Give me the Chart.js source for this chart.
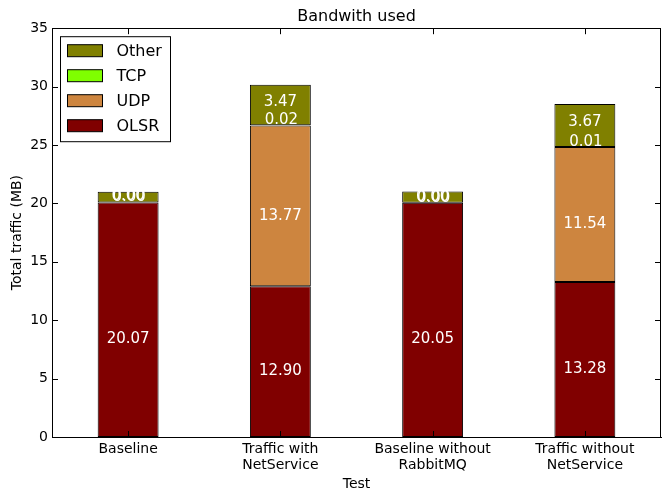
<!DOCTYPE html>
<html>
<head>
<meta charset="utf-8">
<script src="https://cdn.jsdelivr.net/npm/chart.js@4.4.0/dist/chart.umd.min.js"></script>
<style>
  html, body { margin: 0; padding: 0; background: #fff; }
  #wrap { width: 662px; height: 493px; }
</style>
</head>
<body>
<div id="wrap"><canvas id="canvas" width="662" height="493"></canvas></div>
<script>
// categories and values
var tests = [["Baseline"], ["Traffic with", "NetService"], ["Baseline without", "RabbitMQ"], ["Traffic without", "NetService"]];
var olsr  = [20.07, 12.90, 20.05, 13.28];
var udp   = [0.00, 13.77, 0.00, 11.54];
var tcp   = [0.00, 0.02, 0.00, 0.01];
var other = [0.92, 3.47, 0.96, 3.67];
var yTicks = [0, 5, 10, 15, 20, 25, 30, 35];

var FONT = "'DejaVu Sans', sans-serif";

// white value labels on the segments
var barLabels = {
    id: 'barLabels',
    afterDatasetsDraw: function(chart) {
        var ctx = chart.ctx;
        ctx.save();
        ctx.fillStyle = '#fff';
        ctx.font = '15px ' + FONT;
        ctx.textAlign = 'center';
        ctx.textBaseline = 'middle';
        chart.data.datasets.forEach(function(ds, i) {
            chart.getDatasetMeta(i).data.forEach(function(bar, j) {
                var v = ds.data[j];
                var h = Math.abs(bar.base - bar.y);
                if (i == 3 && v < 1) return;
                var shift = [0.12 * h - 9, 10, -14, -3][i];
                var y = (bar.y + bar.base) / 2 + shift;
                if (h < 1) y = bar.y - 6 + (i == 2 ? 1 : 0);
                ctx.fillText(v.toFixed(2), bar.x + (i == 2 ? 1 : 0), y);
            });
        });
        ctx.restore();
    }
};

// matplotlib-ish frame, inward ticks and legend box
var frame = {
    id: 'frame',
    afterDraw: function(chart) {
        var ctx = chart.ctx;
        var a = chart.chartArea;
        var xs = chart.scales.x, ys = chart.scales.y;
        ctx.save();
        ctx.strokeStyle = '#000';
        ctx.lineWidth = 1;
        ctx.strokeRect(Math.round(a.left) + 0.5, Math.round(a.top) + 0.5, Math.round(a.right - a.left) - 1, Math.round(a.bottom - a.top));
        ctx.beginPath();
        yTicks.forEach(function(t) {
            var y = Math.round(ys.getPixelForValue(t)) + 0.5;
            ctx.moveTo(a.left, y); ctx.lineTo(a.left + 6, y);
            ctx.moveTo(a.right, y); ctx.lineTo(a.right - 6, y);
        });
        tests.forEach(function(t, i) {
            var x = Math.round(xs.getPixelForValue(i)) + 0.5;
            ctx.moveTo(x, a.bottom); ctx.lineTo(x, a.bottom - 6);
            ctx.moveTo(x, a.top); ctx.lineTo(x, a.top + 6);
        });
        ctx.stroke();

        // legend
        var lx = a.left + 8.5, ly = a.top + 8.5;
        ctx.fillStyle = '#fff';
        ctx.fillRect(lx, ly, 110, 105);
        ctx.strokeRect(lx, ly, 110, 105);
        ctx.font = '16px ' + FONT;
        ctx.textAlign = 'left';
        ctx.textBaseline = 'middle';
        var ds = chart.data.datasets.slice().reverse();
        ds.forEach(function(d, k) {
            var cy = ly + 14 + k * 25;
            ctx.fillStyle = d.backgroundColor;
            ctx.fillRect(lx + 7, cy - 6, 35, 12);
            ctx.strokeRect(lx + 7, cy - 6, 35, 12);
            ctx.fillStyle = '#000';
            ctx.fillText(d.label, lx + 56, cy + 1);
        });
        ctx.restore();
    }
};

var config = {
    type: 'bar',
    data: {
        labels: tests,
        datasets: [
            { label: 'OLSR',  data: olsr,  backgroundColor: '#800000' },
            { label: 'UDP',   data: udp,   backgroundColor: '#cd853f' },
            { label: 'TCP',   data: tcp,   backgroundColor: '#7fff00' },
            { label: 'Other', data: other, backgroundColor: '#808000' }
        ]
    },
    options: {
        responsive: false,
        animation: false,
        layout: { padding: { left: 0, right: 1, top: 0, bottom: 0 } },
        datasets: {
            bar: {
                borderColor: '#000',
                borderWidth: 1,
                borderSkipped: false,
                barPercentage: 0.8,
                categoryPercentage: 0.5
            }
        },
        plugins: {
            legend: { display: false },
            tooltip: { enabled: false },
            title: {
                display: true,
                text: 'Bandwith used',
                fullSize: false,
                color: '#000',
                font: { family: FONT, size: 16, weight: 'normal' },
                padding: { top: 7, bottom: 2 }
            }
        },
        scales: {
            x: {
                stacked: true,
                grid: { display: false, drawTicks: false },
                border: { display: true, color: '#000' },
                ticks: { color: '#000', font: { family: FONT, size: 14, lineHeight: 1.1 }, padding: 5, maxRotation: 0, autoSkip: false },
                title: { display: true, text: 'Test', color: '#000', font: { family: FONT, size: 14 }, padding: { top: 2, bottom: 0 } },
                afterFit: function(s) { s.height = 56; }
            },
            y: {
                stacked: true,
                min: 0,
                max: 35,
                afterBuildTicks: function(s) { s.ticks = yTicks.map(function(v) { return { value: v }; }); },
                grid: { display: false, drawTicks: false },
                border: { display: true, color: '#000' },
                ticks: { color: '#000', font: { family: FONT, size: 14 }, padding: 4 },
                title: { display: true, text: 'Total traffic (MB)', color: '#000', font: { family: FONT, size: 14 }, padding: { top: 9, bottom: 4 } },
                afterFit: function(s) { s.width = 52; }
            }
        }
    },
    plugins: [barLabels, frame]
};

var trafficChart = new Chart(document.getElementById('canvas'), config);
</script>
</body>
</html>
